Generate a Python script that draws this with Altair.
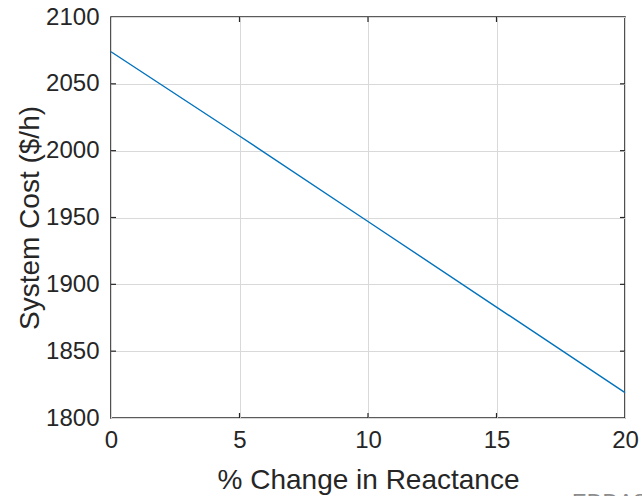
import altair as alt
import pandas as pd

# Data
change = [0, 5, 10, 15, 20]
cost = [2074, 2011, 1947, 1883, 1819]
x_ticks = [0, 5, 10, 15, 20]
y_ticks = [1800, 1850, 1900, 1950, 2000, 2050, 2100]
inner_x = [5, 10, 15]
inner_y = [1850, 1900, 1950, 2000, 2050]

W, H = 514, 401
FONT = "Liberation Sans"
INK = "#262626"
LBL = 24
TTL = 28

df = pd.DataFrame({"change": change, "cost": cost})
xs = alt.Scale(domain=[0, 20], nice=False, zero=False)
ys = alt.Scale(domain=[1800, 2100], nice=False, zero=False)

x_axis = alt.Axis(
    values=x_ticks, title="% Change in Reactance", grid=True, ticks=False,
    domain=False, labelPadding=10, labelFontSize=LBL, titleFontSize=TTL,
    titleFontWeight="normal", titleX=W / 2, titleY=62, titleBaseline="middle",
    labelFlush=False, format="d")
y_axis = alt.Axis(
    values=y_ticks, title="System Cost ($/h)", grid=True, ticks=False,
    domain=False, labelPadding=12, labelFontSize=LBL, titleFontSize=TTL,
    titleFontWeight="normal", titleX=-81, titleY=H / 2, titleAngle=-90,
    titleAlign="center", titleBaseline="middle", labelFlush=False, format="d")

line = alt.Chart(df).mark_line(color="#0072BD", strokeWidth=1.4).encode(
    x=alt.X("change:Q", scale=xs, axis=x_axis),
    y=alt.Y("cost:Q", scale=ys, axis=y_axis),
)

tx = pd.DataFrame({"change": inner_x})
ty = pd.DataFrame({"cost": inner_y})
tick_col = INK
top_t = alt.Chart(tx).mark_rule(color=tick_col, strokeWidth=1.2).encode(
    x=alt.X("change:Q", scale=xs, axis=x_axis), y=alt.value(0), y2=alt.value(5))
bot_t = alt.Chart(tx).mark_rule(color=tick_col, strokeWidth=1.2).encode(
    x=alt.X("change:Q", scale=xs, axis=x_axis), y=alt.value(H - 5), y2=alt.value(H))
left_t = alt.Chart(ty).mark_rule(color=tick_col, strokeWidth=1.2).encode(
    y=alt.Y("cost:Q", scale=ys, axis=y_axis), x=alt.value(0), x2=alt.value(5))
right_t = alt.Chart(ty).mark_rule(color=tick_col, strokeWidth=1.2).encode(
    y=alt.Y("cost:Q", scale=ys, axis=y_axis), x=alt.value(W - 5), x2=alt.value(W))

mark_df = pd.DataFrame({"label": ["EDDAS"]})
watermark = alt.Chart(mark_df).mark_text(
    align="left", baseline="top", fontSize=22, color="#8c8c8c", font=FONT
).encode(x=alt.value(461), y=alt.value(475), text="label:N")

chart = alt.layer(line, top_t, bot_t, left_t, right_t, watermark).properties(
    width=W, height=H,
    autosize=alt.AutoSizeParams(type="none"),
    padding={"left": 111, "top": 17, "right": 17, "bottom": 78},
    background="white",
).configure_view(
    stroke=INK, strokeWidth=1.6
).configure_axis(
    labelFont=FONT, titleFont=FONT, labelColor=INK, titleColor=INK,
    labelFontSize=LBL, titleFontSize=TTL, titleFontWeight="normal",
    gridColor="#d9d9d9", gridWidth=1, gridOpacity=1,
)

chart.save("out.html", embed_options={"renderer": "svg", "actions": False})
